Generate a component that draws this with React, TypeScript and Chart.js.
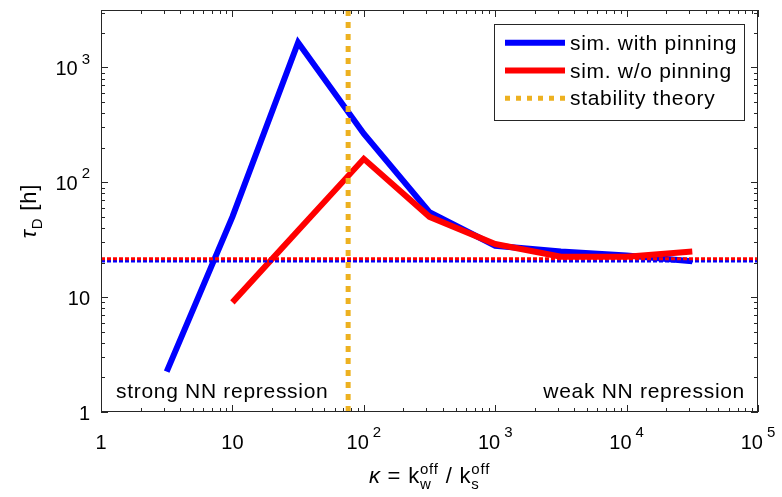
import React, { useEffect, useRef } from "react";
import { Chart, registerables } from "chart.js";

Chart.register(...registerables);

const X_BLUE = [3.162, 10, 31.62, 100, 316.2, 1000, 3162, 10000, 31620];
const Y_BLUE = [2.25, 50, 1650, 265, 55, 28, 25, 23, 20.5];
const X_RED = [10, 31.62, 100, 316.2, 1000, 3162, 10000, 31620];
const Y_RED = [9, 38, 160, 50, 29, 22.5, 22.5, 25];
const THRESH_RED = 21.6;
const THRESH_BLUE = 20.6;
const KAPPA_STAB = 76;

const X_MIN = 1;
const X_MAX = 100000;
const Y_MIN = 1;
const Y_MAX = 3162.3;

const X_TICKS = [1, 10, 100, 1000, 10000, 100000];
const X_TICK_BASE = ["1", "10", "10", "10", "10", "10"];
const X_TICK_EXP = ["", "", "2", "3", "4", "5"];
const Y_TICKS = [1, 10, 100, 1000];
const Y_TICK_BASE = ["1", "10", "10", "10"];
const Y_TICK_EXP = ["", "", "2", "3"];

const LEGEND_LABELS = ["sim. with pinning", "sim. w/o pinning", "stability theory"];
const ANNOT_LEFT = "strong NN repression";
const ANNOT_RIGHT = "weak NN repression";

const BLUE = "#0000FF";
const RED = "#FF0000";
const ORANGE = "#EDB120";
const AXIS = "#262626";
const FONT = "'Liberation Sans', Arial, Helvetica, sans-serif";

const pts = (xs: number[], ys: number[]) => xs.map((x, i) => ({ x, y: ys[i] }));

function setLS(ctx: any, v: number) {
  if ("letterSpacing" in ctx) ctx.letterSpacing = `${v}px`;
}

function powWidth(ctx: CanvasRenderingContext2D, base: string, exp: string) {
  ctx.font = `20px ${FONT}`;
  let w = ctx.measureText(base).width;
  if (exp) {
    ctx.font = `15px ${FONT}`;
    w += 4 + ctx.measureText(exp).width;
  }
  return w;
}

function drawPow(ctx: CanvasRenderingContext2D, base: string, exp: string, left: number, midY: number) {
  ctx.textBaseline = "middle";
  ctx.textAlign = "left";
  ctx.font = `20px ${FONT}`;
  ctx.fillText(base, left, midY);
  const bw = ctx.measureText(base).width;
  if (exp) {
    ctx.font = `15px ${FONT}`;
    ctx.fillText(exp, left + bw + 4, midY - 10);
  }
}

const decor = {
  id: "decor",
  afterDraw(chart: any) {
    const ctx: CanvasRenderingContext2D = chart.ctx;
    const { left, right, top, bottom } = chart.chartArea;
    const xs = chart.scales.x;
    const ys = chart.scales.y;
    ctx.save();
    setLS(ctx, 0);
    ctx.strokeStyle = AXIS;
    ctx.lineWidth = 1;
    ctx.setLineDash([]);
    ctx.strokeRect(left + 0.5, top + 0.5, right - left - 1, bottom - top - 1);
    // ticks
    ctx.beginPath();
    for (let d = 0; d < 5; d++) {
      const b = Math.pow(10, d);
      for (let m = 1; m <= 10; m++) {
        const v = b * m;
        const px = Math.round(xs.getPixelForValue(v)) + 0.5;
        const len = m === 1 || m === 10 ? 7 : 4;
        ctx.moveTo(px, bottom);
        ctx.lineTo(px, bottom - len);
        ctx.moveTo(px, top);
        ctx.lineTo(px, top + len);
      }
    }
    for (let d = 0; d < 4; d++) {
      const b = Math.pow(10, d);
      for (let m = 1; m <= 10; m++) {
        const v = b * m;
        if (v > Y_MAX) continue;
        const py = Math.round(ys.getPixelForValue(v)) + 0.5;
        const len = m === 1 || m === 10 ? 7 : 4;
        ctx.moveTo(left, py);
        ctx.lineTo(left + len, py);
        ctx.moveTo(right, py);
        ctx.lineTo(right - len, py);
      }
    }
    ctx.stroke();

    ctx.fillStyle = "#000";
    X_TICKS.forEach((v, i) => {
      const px = xs.getPixelForValue(v);
      const w = powWidth(ctx, X_TICK_BASE[i], X_TICK_EXP[i]);
      drawPow(ctx, X_TICK_BASE[i], X_TICK_EXP[i], px - w / 2, bottom + 31);
    });
    Y_TICKS.forEach((v, i) => {
      const py = ys.getPixelForValue(v);
      const w = powWidth(ctx, Y_TICK_BASE[i], Y_TICK_EXP[i]);
      drawPow(ctx, Y_TICK_BASE[i], Y_TICK_EXP[i], left - 11 - w, py + 2);
    });

    // x title
    {
      setLS(ctx, 0.8);
      const big = 22;
      const small = 15;
      const seq: { t: string; size: number; dy: number; italic?: boolean; adv?: boolean }[] = [
        { t: "κ", size: big, dy: 0, italic: true },
        { t: " = k", size: big, dy: 0 },
        { t: "w", size: small, dy: 6, adv: false },
        { t: "off", size: small, dy: -9 },
        { t: " / k", size: big, dy: 0 },
        { t: "s", size: small, dy: 6, adv: false },
        { t: "off", size: small, dy: -9 },
      ];
      let total = 0;
      for (const s of seq) {
        ctx.font = `${s.italic ? "italic " : ""}${s.size}px ${FONT}`;
        if (s.adv !== false) total += ctx.measureText(s.t).width;
      }
      let x = (left + right) / 2 - total / 2;
      const base = bottom + 71;
      ctx.textAlign = "left";
      ctx.textBaseline = "alphabetic";
      for (const s of seq) {
        ctx.font = `${s.italic ? "italic " : ""}${s.size}px ${FONT}`;
        ctx.fillText(s.t, x, base + s.dy);
        if (s.adv !== false) x += ctx.measureText(s.t).width;
      }
    }

    // y title
    {
      ctx.save();
      setLS(ctx, 0.8);
      ctx.translate(36, 211);
      ctx.rotate(-Math.PI / 2);
      ctx.textBaseline = "alphabetic";
      ctx.textAlign = "left";
      ctx.font = `italic 22px ${FONT}`;
      const w1 = ctx.measureText("τ").width;
      ctx.font = `15px ${FONT}`;
      const w2 = ctx.measureText("D").width;
      ctx.font = `22px ${FONT}`;
      const w3 = ctx.measureText(" [h]").width;
      let x = -(w1 + w2 + w3) / 2;
      ctx.font = `italic 22px ${FONT}`;
      ctx.fillText("τ", x, 0);
      x += w1;
      ctx.font = `15px ${FONT}`;
      ctx.fillText("D", x, 6);
      x += w2;
      ctx.font = `22px ${FONT}`;
      ctx.fillText(" [h]", x, 0);
      ctx.restore();
    }

    // annotations
    setLS(ctx, 0.7);
    ctx.font = `21px ${FONT}`;
    ctx.textBaseline = "alphabetic";
    ctx.textAlign = "left";
    ctx.fillText(ANNOT_LEFT, left + 15, 398);
    ctx.textAlign = "right";
    ctx.fillText(ANNOT_RIGHT, right - 13, 398);

    // legend
    setLS(ctx, 0);
    const lx = 494, ly = 24, lw = 250, lh = 96;
    ctx.fillStyle = "#fff";
    ctx.fillRect(lx, ly, lw, lh);
    ctx.strokeStyle = AXIS;
    ctx.lineWidth = 1;
    ctx.strokeRect(lx + 0.5, ly + 0.5, lw, lh);
    const rows = [42.7, 70.5, 98.3];
    const styles = [
      { c: BLUE, w: 6, dash: [] as number[] },
      { c: RED, w: 6, dash: [] as number[] },
      { c: ORANGE, w: 5, dash: [5, 6] },
    ];
    rows.forEach((ry, i) => {
      ctx.beginPath();
      ctx.strokeStyle = styles[i].c;
      ctx.lineWidth = styles[i].w;
      ctx.setLineDash(styles[i].dash);
      ctx.moveTo(505, ry);
      ctx.lineTo(565, ry);
      ctx.stroke();
      ctx.setLineDash([]);
      ctx.fillStyle = "#000";
      ctx.textAlign = "left";
      ctx.textBaseline = "alphabetic";
      ctx.font = `21px ${FONT}`;
      setLS(ctx, 0.7);
      ctx.fillText(LEGEND_LABELS[i], 570, ry + 7);
      setLS(ctx, 0);
    });
    ctx.restore();
  },
};

export default function App() {
  const ref = useRef<HTMLCanvasElement | null>(null);
  useEffect(() => {
    if (!ref.current) return;
    const chart = new Chart(ref.current, {
      type: "line",
      data: {
        datasets: [
          {
            label: "stability theory",
            data: [
              { x: KAPPA_STAB, y: Y_MIN },
              { x: KAPPA_STAB, y: Y_MAX },
            ],
            borderColor: ORANGE,
            borderWidth: 5,
            borderDash: [6, 6],
            pointRadius: 0,
            order: 0,
          },
          {
            label: "threshold red",
            data: [
              { x: X_MIN, y: THRESH_RED },
              { x: X_MAX, y: THRESH_RED },
            ],
            borderColor: RED,
            borderWidth: 3,
            borderDash: [4, 2],
            pointRadius: 0,
            order: 1,
          },
          {
            label: "threshold blue",
            data: [
              { x: X_MIN, y: THRESH_BLUE },
              { x: X_MAX, y: THRESH_BLUE },
            ],
            borderColor: BLUE,
            borderWidth: 3,
            borderDash: [4, 2],
            pointRadius: 0,
            order: 1,
          },
          {
            label: "sim. w/o pinning",
            data: pts(X_RED, Y_RED),
            borderColor: RED,
            borderWidth: 6,
            pointRadius: 0,
            order: 2,
          },
          {
            label: "sim. with pinning",
            data: pts(X_BLUE, Y_BLUE),
            borderColor: BLUE,
            borderWidth: 6,
            pointRadius: 0,
            order: 3,
          },
        ],
      },
      options: {
        animation: false,
        responsive: false,
        maintainAspectRatio: false,
        layout: { padding: { top: 10, right: 24, left: 0, bottom: 0 } },
        plugins: { legend: { display: false }, tooltip: { enabled: false } },
        scales: {
          x: {
            type: "logarithmic",
            min: X_MIN,
            max: X_MAX,
            grid: { display: false },
            border: { display: false },
            ticks: { display: false },
            afterFit: (s: any) => {
              s.height = 85;
            },
          },
          y: {
            type: "logarithmic",
            min: Y_MIN,
            max: Y_MAX,
            grid: { display: false },
            border: { display: false },
            ticks: { display: false },
            afterFit: (s: any) => {
              s.width = 101;
            },
          },
        },
      },
      plugins: [decor],
    } as any);
    return () => chart.destroy();
  }, []);
  return (
    <div style={{ position: "absolute", left: 0, top: 0, width: 782, height: 497, background: "#fff" }}>
      <canvas ref={ref} width={782} height={497} style={{ width: 782, height: 497 }} />
    </div>
  );
}
